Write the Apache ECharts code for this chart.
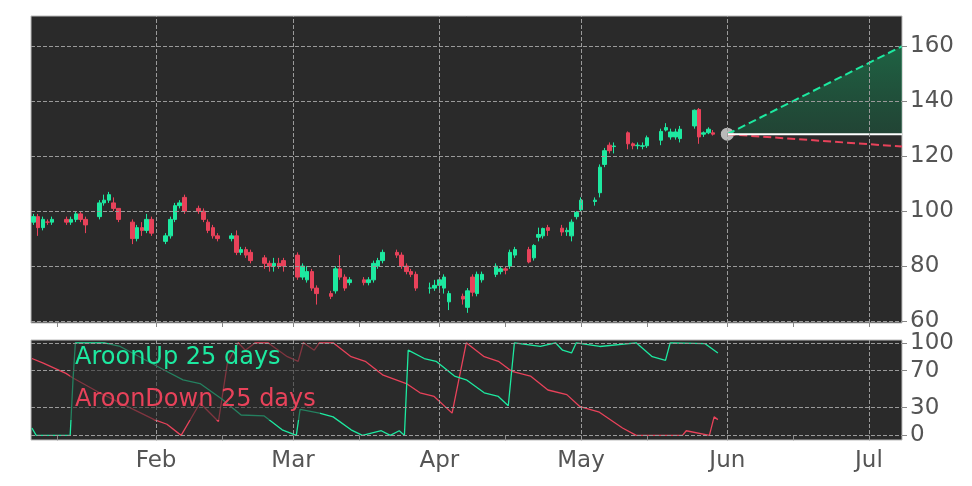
<!DOCTYPE html>
<html>
<head>
<meta charset="utf-8">
<script src="https://cdn.jsdelivr.net/npm/echarts@6/dist/echarts.min.js"></script>
<style>html,body{margin:0;background:#fff}#chart{width:972px;height:486px}</style>
</head>
<body>
<div id="chart"></div>
<script>
// day numbers: 0 = Jan 1 2020
var monthTicks = [31, 60, 91, 121, 152, 182];
var monthNames = {31:'Feb', 60:'Mar', 91:'Apr', 121:'May', 152:'Jun', 182:'Jul'};
var minorTicks = [10, 45, 74, 105, 135, 166];

var opens = [96,98,94,96,96, 97,96,97,99,97, 98,103,104,103,101, 96,90,94,93,97,
  89,91,97,102,105, 101,100,96,94,91, 90,91,85,86,85, 83,81,80,81,82,
  84,76,75,78,72, 70,71,79,76,74, 75,74,75,80,82, 85,84,80,78,77, 72,72,
  73,72,67,69,65, 76,70,75,77,78, 79,80,84,86,83, 90.5,91,94,93.8,92.5, 91,98,
  100.5,103.5,106.7,117,124, 123.5,128.5,124.5,123.8,123.6, 123.8,125.8,129.5,127,127, 126.4,131,137,128,128.5, 128.5];
var closes = [98,94,97,96,97, 96,97,99,97,95, 103,104,106,101,97, 90,94,93,97,92,
  91,97,102,103,100, 100,97,93,91,90, 91,85,86,84,82, 81,80,81,80,80,
  76,80,78,72,70, 69,79,76,72,75, 74,75,81,82,85, 84,80,78,77,72, 72,73,
  75,76,70,68,71, 70.5,77,77,80,79, 78.5,85,86,81.5,87.5, 91.5,93.7,93,92.4,93, 96,99.5,
  104,104,116,122,122, 123.7,124.5,123.8,124,123.8, 126.7,129,130.4,128.8,128.8, 129.8,136.7,127,128.5,129.8, 128];
var highs = [99,99,98,97,98, 98,98,100,100,98, 104,106,107,105,101, 97,95,96,99,98,
  92,98,103,104,106, 102,101,97,95,92, 92,93,87,87,86, 84,82,83,83,83,
  85,81,80,79,73, 71,80,84,77,76, 76,76,82,83,86, 86,85,81,79,78, 74,75,
  76,77,71,70,72, 77,78,78,81,80, 80,86,87,87,88, 94,94,95,95,94, 97,100,
  105,105,117,123,125, 125,129,125,125,125, 127.5,130,132,130,130, 131,137,137.5,129,130.5, 129.5];
var lows = [95,91,93,95,95, 95,95,96,96,92, 97,102,103,100,96, 88,89,91,92,91,
  88,90,96,101,99, 99,96,92,90,89, 89,84,84,83,81, 79,78,78,79,78,
  75,75,74,71,66, 68,70,75,71,73, 73,73,74,79,81, 83,79,77,76,71, 70,71,
  71,70,64,66,63, 69,69,74,76,77, 77,79,83,81,82, 89,90,91,91,91, 89,97,
  100,102,105,116,121, 121,122.5,122.5,122.5,122.5, 123,124,129,126,126, 125,130,124.5,127,128, 127.5];

var aroonUp = [[4.7,8],[5.6,0],[12.8,0],[13.4,60],[13.9,100],[20,100],[23.4,96],[33.3,69],[36.7,60],[40.3,56],
  [45,39],[49,22],[53.9,21],[57.7,6],[60.7,0],[61.5,28],[65.6,24],[68.5,20],[72.3,6],[74.7,0],[78.7,5],[80.6,0],
  [82.5,5],[83.6,0],[84.4,92],[87.8,83],[90.3,80],[94.2,64],[96.7,60],[100.5,46],[103.5,42],[105.6,32],[106.9,100],
  [112.4,96],[115.6,100],[117.1,92],[119,89],[120,100],[125,96],[132.7,100],[136.1,85],[138.9,81],[139.9,100],
  [147.3,99],[150,89]];
var aroonDown = [[4.7,83],[7.1,78],[11.9,67],[13.4,62],[19.4,45],[30.6,17],[33.3,12],[36.3,0],[40.3,35],[44.2,15],
  [46.1,78],[48.4,100],[49.9,92],[52,100],[54.7,100],[58.8,85],[61.1,80],[62.2,100],[64.5,92],[65.6,100],[68.5,100],
  [72.3,85],[75.3,80],[79.1,65],[84,56],[86.9,46],[89.9,42],[93.7,24],[96.7,100],[100.5,85],[103.5,80],[106.4,69],
  [110.3,64],[114,49],[118,44],[120.8,31],[124.9,25],[129.8,8],[132.7,0],[142.5,0],[143.3,5],[148.2,0],[149.2,20],[150,17]];

var lastDay = 152, lastClose = 128;
var projUpper = [[152,128],[189,160]];
var projLower = [[152,128],[189,123.5]];
var projFlat = [[152,128],[189,128]];

// trading days = weekdays from Jan 6
var days = [];
for (var d = 5; days.length < opens.length; d++) {
    var wd = (3 + d) % 7;
    if (wd != 0 && wd != 6) days.push(d);
}
var candles = days.map(function (d, i) { return [d, opens[i], closes[i], lows[i], highs[i]]; });

var up = '#1de9a0', down = '#e8425a';
var gridLine = {show: true, lineStyle: {color: '#9a9a9a', type: 'dashed', width: 1}};
var labelStyle = {color: '#555', fontSize: 23, fontFamily: 'DejaVu Sans'};

var chart = echarts.init(document.getElementById('chart'));
chart.setOption({
    animation: false,
    backgroundColor: '#fff',
    grid: [
        {left: 31, right: 70, top: 16, height: 307, show: true, backgroundColor: '#2a2a2a', borderColor: '#bbb'},
        {left: 31, right: 70, top: 340, height: 100, show: true, backgroundColor: '#2a2a2a', borderColor: '#bbb'}
    ],
    xAxis: [
        {type: 'value', gridIndex: 0, min: 4.5, max: 189, axisLine: {show: false},
         axisTick: {show: true, customValues: monthTicks.concat(minorTicks), lineStyle: {color: '#888'}, length: 4},
         axisLabel: {show: false, customValues: monthTicks},
         splitLine: {show: false}},
        {type: 'value', gridIndex: 1, min: 4.5, max: 189, axisLine: {show: false},
         axisTick: {show: true, customValues: monthTicks.concat(minorTicks), lineStyle: {color: '#888'}, length: 5},
         axisLabel: Object.assign({customValues: monthTicks, margin: 10, formatter: function (v) { return monthNames[Math.round(v)] || ''; }}, labelStyle),
         splitLine: {show: false}}
    ],
    yAxis: [
        {type: 'value', gridIndex: 0, position: 'right', min: 59.3, max: 171,
         axisLine: {show: false}, axisTick: {show: true, customValues: [60,80,100,120,140,160], lineStyle: {color: '#888'}},
         axisLabel: Object.assign({customValues: [60,80,100,120,140,160]}, labelStyle), splitLine: {show: false}},
        {type: 'value', gridIndex: 1, position: 'right', min: -5, max: 103,
         axisLine: {show: false}, axisTick: {show: true, customValues: [0,30,70,100], lineStyle: {color: '#888'}},
         axisLabel: Object.assign({customValues: [0,30,70,100]}, labelStyle), splitLine: {show: false}}
    ],
    series: [
        {type: 'candlestick', xAxisIndex: 0, yAxisIndex: 0, data: candles, barWidth: 4,
         itemStyle: {color: up, color0: down, borderColor: up, borderColor0: down, borderWidth: 1},
         markLine: {silent: true, symbol: 'none', label: {show: false}, lineStyle: gridLine.lineStyle,
            data: [{yAxis: 60}, {yAxis: 80}, {yAxis: 100}, {yAxis: 120}, {yAxis: 140}, {yAxis: 160}]
              .concat(monthTicks.map(function (m) { return {xAxis: m}; }))}},
        {type: 'line', xAxisIndex: 0, yAxisIndex: 0, data: projUpper, symbol: 'none',
         lineStyle: {color: up, type: 'dashed', width: 2},
         areaStyle: {origin: 128, color: new echarts.graphic.LinearGradient(0, 0, 0, 1, [
             {offset: 0, color: 'rgba(20,150,90,0.75)'}, {offset: 1, color: 'rgba(20,110,70,0.55)'}])}},
        {type: 'line', xAxisIndex: 0, yAxisIndex: 0, data: projLower, symbol: 'none',
         lineStyle: {color: down, type: 'dashed', width: 2}},
        {type: 'line', xAxisIndex: 0, yAxisIndex: 0, data: projFlat, symbol: 'none',
         lineStyle: {color: '#fff', width: 2}},
        {type: 'scatter', xAxisIndex: 0, yAxisIndex: 0, data: [[lastDay, lastClose]], symbolSize: 13,
         itemStyle: {color: '#ddd'}},
        {type: 'line', xAxisIndex: 1, yAxisIndex: 1, data: aroonDown, symbol: 'none',
         lineStyle: {color: down, width: 1.3},
         markLine: {silent: true, symbol: 'none', label: {show: false}, lineStyle: gridLine.lineStyle,
            data: [{yAxis: 0}, {yAxis: 30}, {yAxis: 70}, {yAxis: 100}]
              .concat(monthTicks.map(function (m) { return {xAxis: m}; }))}},
        {type: 'line', xAxisIndex: 1, yAxisIndex: 1, data: aroonUp, symbol: 'none',
         lineStyle: {color: up, width: 1.3}}
    ],
    graphic: [
        {type: 'rect', left: 70, top: 344, shape: {width: 250, height: 76}, style: {fill: 'rgba(42,42,42,0.55)'}, z: 100},
        {type: 'text', left: 75, top: 346, style: {text: 'AroonUp 25 days', fill: up, font: '24px DejaVu Sans'}, z: 101},
        {type: 'text', left: 75, top: 388, style: {text: 'AroonDown 25 days', fill: down, font: '24px DejaVu Sans'}, z: 101}
    ]
});
</script>
</body>
</html>
